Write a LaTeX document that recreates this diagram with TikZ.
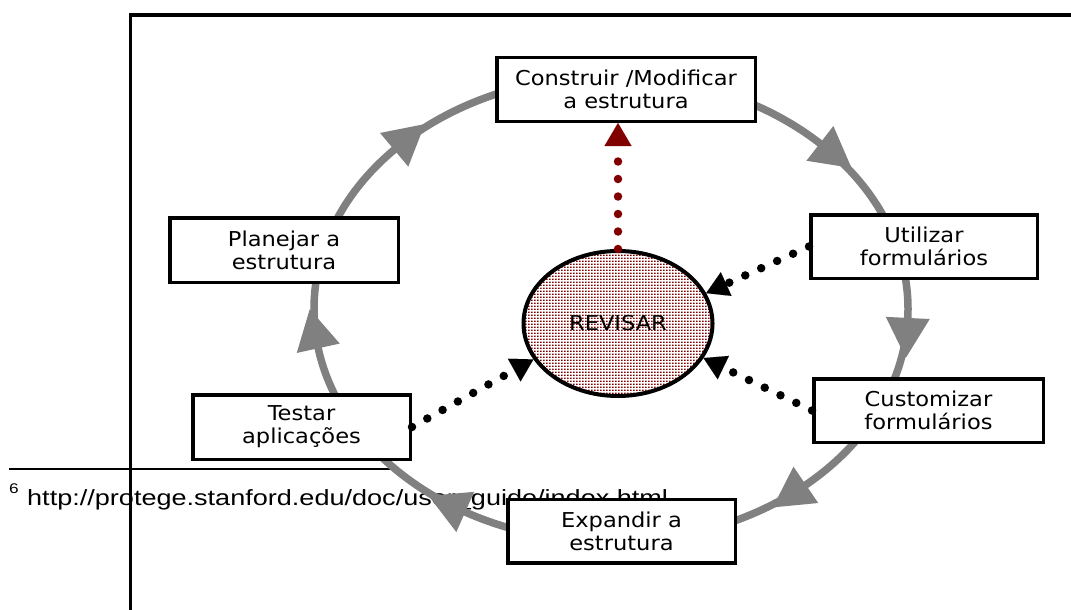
\documentclass[tikz,border=0pt]{standalone}
\usepackage{fontspec}
\usetikzlibrary{arrows.meta,shapes.geometric,patterns}
\newfontfamily\boxfont[FakeStretch=1.1]{DejaVu Sans}
\newfontfamily\notefont[FakeStretch=1.23]{Liberation Sans}
\definecolor{ringgray}{RGB}{128,128,128}
\definecolor{revred}{RGB}{128,0,0}

% fine dot grid used inside the REVISAR ellipse
\pgfdeclarepatternformonly{revdots}{\pgfqpoint{0pt}{0pt}}{\pgfqpoint{3pt}{3pt}}{\pgfqpoint{3pt}{3pt}}{%
  \pgfpathrectangle{\pgfqpoint{0pt}{0pt}}{\pgfqpoint{2pt}{1.7pt}}\pgfusepath{fill}}

% gray arrowhead sitting on the cycle ellipse at parameter angle #1
\newcommand\cyclearrow[1]{%
  \pgfmathsetmacro\cyPx{611+297*cos(#1)}%
  \pgfmathsetmacro\cyPy{309+233*sin(#1)}%
  \pgfmathsetmacro\cyAng{atan2(233*cos(#1),-297*sin(#1))}%
  \pgfmathsetmacro\cyUx{cos(\cyAng)}%
  \pgfmathsetmacro\cyUy{sin(\cyAng)}%
  \fill[ringgray] ({\cyPx+40*(\cyUx)},{\cyPy+40*(\cyUy)})
     -- ({\cyPx-22*(\cyUy)},{\cyPy+22*(\cyUx)})
     -- ({\cyPx+22*(\cyUy)},{\cyPy-22*(\cyUx)}) -- cycle;
}

\tikzset{
  stage/.style={draw=black, line width=3.5pt, fill=white, inner sep=0pt,
    align=center, minimum height=63.5pt,
    font=\boxfont\fontsize{20.5}{23}\selectfont},
  ring/.style={draw=ringgray, line width=7.5pt},
  dotlink/.style={line width=8.5pt, line cap=round, dash pattern=on 0pt off 17.5pt},
  blacktip/.style={-{Triangle[length=22pt,width=26pt,line width=0.01pt]}},
  redtip/.style={-{Triangle[length=23pt,width=27pt,line width=0.01pt]}},
}

\begin{document}
\begin{tikzpicture}[x=1pt,y=-1pt]
\useasboundingbox (0,0) rectangle (1071,610);

% footnote at the foot of the page
\node[anchor=base west, inner sep=0pt, font=\notefont\fontsize{14}{16}\selectfont] (fnmark) at (9,493) {6};
\node[anchor=base west, inner sep=0pt, font=\notefont\fontsize{22}{26}\selectfont] (fnurl) at (27,505)
  {http://protege.stanford.edu/doc/user\_guide/index.html};
\draw[line width=2.2pt] (9,469) -- (392,469);

% frame
\draw[line width=3.2pt, line join=miter] (130.5,610) -- (130.5,15) -- (1071,15);

% cycle ring with its arrowheads
\draw[ring] (611,309) ellipse [x radius=297, y radius=233];
\foreach \t in {223.1,314.7,2.2,49,119.4,170.3} {\cyclearrow{\t}}

% stages
\node[stage, minimum width=258.5pt] (construir) at (626,89.5) {Construir /Modificar\\a estrutura};
\node[stage, minimum width=228.5pt, minimum height=64.5pt] (planejar) at (284,250) {Planejar a\\estrutura};
\node[stage, minimum width=226.5pt] (utilizar) at (924,246.5) {Utilizar\\formulários};
\node[stage, minimum width=229.5pt] (customizar) at (928.5,410.5) {Customizar\\formulários};
\node[stage, minimum width=217.5pt, minimum height=64.5pt] (testar) at (301.5,427) {Testar\\aplicações};
\node[stage, minimum width=227.5pt] (expandir) at (621.5,531) {Expandir a\\estrutura};

% central review step
\node[ellipse, draw=black, line width=4pt, pattern=revdots, pattern color=revred,
  minimum width=189pt, minimum height=145pt, inner sep=0pt,
  font=\boxfont\fontsize{20.5}{23}\selectfont] (revisar) at (618,323.5) {REVISAR};

% dotted links into and out of the review step
\draw[dotlink, blacktip] (utilizar.west) -- (revisar.19);
\draw[dotlink, blacktip] (customizar.west) -- (revisar.338);
\draw[dotlink, blacktip] (testar.east) -- (revisar.203);
\draw[dotlink, redtip, revred] (revisar.north) -- (revisar.north |- construir.south);
\end{tikzpicture}
\end{document}
